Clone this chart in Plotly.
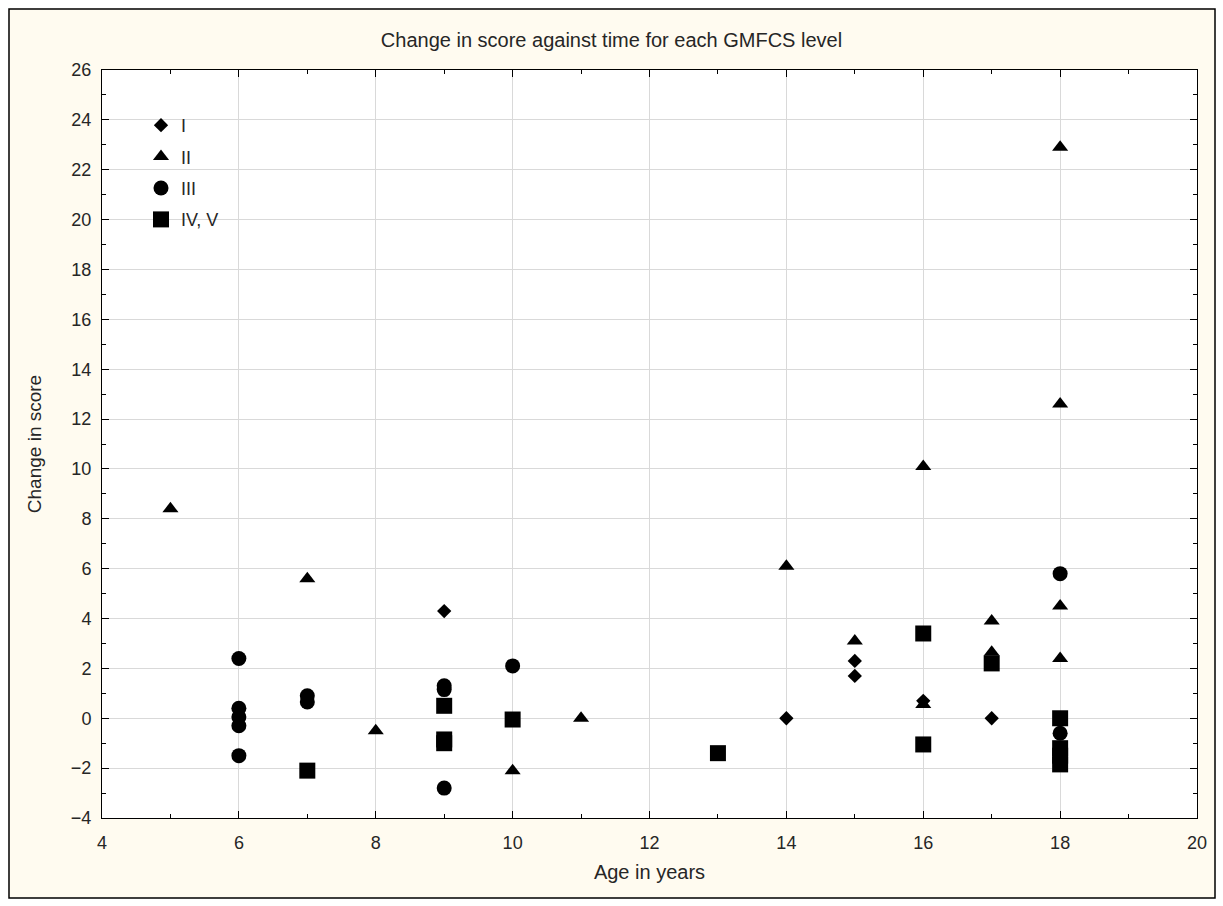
import plotly.graph_objects as go

# ---- data ----
lvl1_age = [9, 14, 15, 15, 16, 17]
lvl1_chg = [4.3, 0.0, 2.3, 1.7, 0.7, 0.0]

lvl2_age = [5, 7, 8, 10, 11, 14, 15, 16, 16, 17, 17, 18, 18, 18, 18]
lvl2_chg = [8.4, 5.6, -0.5, -2.1, 0.0, 6.1, 3.1, 10.1, 0.55, 3.9, 2.65, 4.5, 2.4, 12.6, 22.9]

lvl3_age = [6, 6, 6, 6, 6, 7, 7, 9, 9, 9, 10, 18, 18]
lvl3_chg = [2.4, 0.4, 0.05, -0.3, -1.5, 0.9, 0.65, 1.3, 1.15, -2.8, 2.1, 5.8, -0.6]

lvl45_age = [7, 9, 9, 9, 10, 13, 16, 16, 17, 18, 18, 18, 18]
lvl45_chg = [-2.1, 0.5, -0.85, -1.0, -0.05, -1.4, 3.4, -1.05, 2.2, 0.0, -1.2, -1.5, -1.85]

series = [
    ("I", lvl1_age, lvl1_chg, "diamond", 11),
    ("II", lvl2_age, lvl2_chg, "triangle-up", 14),
    ("III", lvl3_age, lvl3_chg, "circle", 15),
    ("IV, V", lvl45_age, lvl45_chg, "square", 16),
]

x_ticks = list(range(4, 21, 2))
y_ticks = list(range(-4, 27, 2))

FONT = "Liberation Sans, Arial, sans-serif"
TXT = "#262626"

fig = go.Figure()
for name, xs, ys, sym, sz in series:
    fig.add_trace(go.Scatter(
        x=xs, y=ys, mode="markers", name=name, legendgroup=name,
        marker=dict(symbol=sym, size=sz, color="black", line=dict(width=0)),
    ))

W, H = 1223, 906
L, R, T, B = 102, 26, 70, 88
pw, ph = W - L - R, H - T - B


def px_x(p):
    return (p - L) / pw


def px_y(p):
    return (H - B - p) / ph


axis_common = dict(
    showline=True, linecolor="black", linewidth=1, mirror="ticks",
    ticks="inside", ticklen=7, tickcolor="black", tickwidth=1,
    showgrid=True, gridcolor="#d9d9d9", gridwidth=1, zeroline=False,
    tickfont=dict(family=FONT, size=18, color=TXT),
    minor=dict(ticks="inside", ticklen=4, tickcolor="black", dtick=1, showgrid=False),
)

fig.update_xaxes(range=[4, 20], tickvals=x_ticks, dtick=2, ticklabelstandoff=8,
                 title=dict(text="Age in years", font=dict(family=FONT, size=20, color=TXT), standoff=13),
                 **axis_common)
fig.update_yaxes(range=[-4, 26], tickvals=y_ticks, dtick=2, ticklabelstandoff=6,
                 title=dict(text="Change in score", font=dict(family=FONT, size=19, color=TXT), standoff=24),
                 **axis_common)

fig.update_layout(
    width=W, height=H,
    margin=dict(l=L, r=R, t=T, b=B, pad=0),
    paper_bgcolor="#fffbf0",
    plot_bgcolor="white",
    title=dict(text="Change in score against time for each GMFCS level",
               x=0.5, xanchor="center", y=1 - 40 / H, yanchor="middle",
               font=dict(family=FONT, size=20, color=TXT)),
    legend=dict(x=px_x(141), y=px_y(107), xanchor="left", yanchor="top",
                bgcolor="rgba(0,0,0,0)", tracegroupgap=5,
                font=dict(family=FONT, size=18, color=TXT)),
    shapes=[
        # white outer margin
        dict(type="rect", xref="paper", yref="paper",
             x0=px_x(0), x1=px_x(W), y0=px_y(H), y1=px_y(0),
             line=dict(color="white", width=16), fillcolor="rgba(0,0,0,0)", layer="above"),
        # black frame
        dict(type="rect", xref="paper", yref="paper",
             x0=px_x(9), x1=px_x(1215), y0=px_y(898), y1=px_y(9),
             line=dict(color="black", width=1.5), fillcolor="rgba(0,0,0,0)", layer="above"),
    ],
)

fig.write_html("out.html", config={"displayModeBar": False},
               post_script="document.body.style.margin='0';document.body.style.overflow='hidden';")
